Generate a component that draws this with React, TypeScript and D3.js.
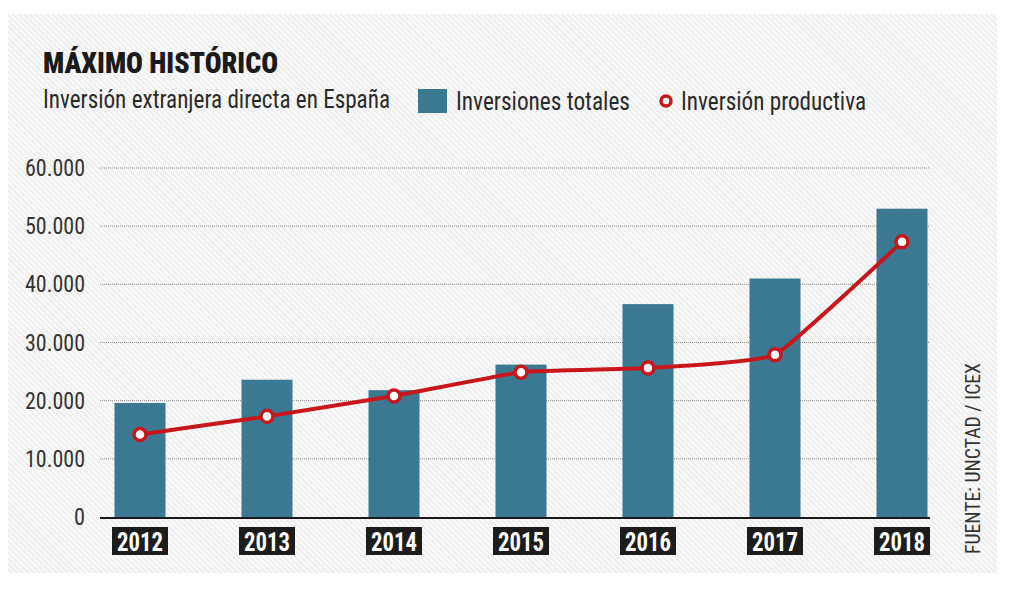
import {useEffect, useRef} from "react";
import * as d3 from "d3";

const years = ["2012", "2013", "2014", "2015", "2016", "2017", "2018"];
const totales = [19600, 23600, 21800, 26200, 36600, 41000, 53000];
const productiva = [14200, 17300, 20800, 24900, 25600, 27900, 47300];
const yTicks = [0, 10000, 20000, 30000, 40000, 50000, 60000];

const BLUE = "#3b7993";
const RED = "#c8161d";
const FONT = "'Roboto Condensed', Roboto, 'DejaVu Sans', sans-serif";

function App() {
    const ref = useRef<SVGSVGElement>(null);

    useEffect(() => {
        const svg = d3.select(ref.current);
        svg.selectAll("*").remove();

        // background hatch
        const defs = svg.append("defs");
        const pat = defs.append("pattern")
            .attr("id", "hatch")
            .attr("patternUnits", "userSpaceOnUse")
            .attr("width", 4)
            .attr("height", 4)
            .attr("patternTransform", "rotate(-45)");
        pat.append("rect").attr("width", 4).attr("height", 4).attr("fill", "#eeeeee");
        pat.append("rect").attr("width", 2).attr("height", 4).attr("fill", "#fbfbfb");

        svg.append("rect")
            .attr("x", 8).attr("y", 14)
            .attr("width", 989).attr("height", 559)
            .attr("fill", "url(#hatch)");

        const x = d3.scalePoint().domain(years).range([140, 902]);
        const y = d3.scaleLinear().domain([0, 60000]).range([517, 168]);
        const barW = 51;

        // gridlines
        svg.append("g")
            .selectAll("line")
            .data(yTicks.filter(d => d > 0))
            .enter().append("line")
            .attr("x1", 100).attr("x2", 930)
            .attr("y1", d => y(d)).attr("y2", d => y(d))
            .attr("stroke", "#8a8a8a")
            .attr("stroke-width", 1)
            .attr("stroke-dasharray", "1,1");

        // y tick labels
        const fmt = (v: number) => d3.format(",")(v).replace(/,/g, ".");
        svg.append("g")
            .selectAll("text")
            .data(yTicks)
            .enter().append("text")
            .attr("x", 85)
            .attr("y", d => y(d) + 8)
            .attr("text-anchor", "end")
            .attr("font-family", FONT)
            .attr("font-size", 23)
            .attr("fill", "#333")
            .attr("textLength", d => {
                const s = fmt(d);
                return s.replace(/\./g, "").length * 11 + (s.length - s.replace(/\./g, "").length) * 5;
            })
            .attr("lengthAdjust", "spacingAndGlyphs")
            .text(d => fmt(d));

        // bars
        svg.append("g")
            .selectAll("rect")
            .data(totales)
            .enter().append("rect")
            .attr("x", (d, i) => (x(years[i]) as number) - barW / 2)
            .attr("y", d => y(d))
            .attr("width", barW)
            .attr("height", d => y(0) - y(d))
            .attr("fill", BLUE);

        // baseline
        svg.append("line")
            .attr("x1", 100).attr("x2", 930)
            .attr("y1", y(0) + 1).attr("y2", y(0) + 1)
            .attr("stroke", "#1a1a1a")
            .attr("stroke-width", 2);

        // year labels
        const yl = svg.append("g").selectAll("g").data(years).enter().append("g")
            .attr("transform", d => `translate(${x(d)},541)`);
        yl.append("rect")
            .attr("x", -28).attr("y", -14)
            .attr("width", 56).attr("height", 28)
            .attr("fill", "#1c1c1c");
        yl.append("text")
            .attr("y", 10)
            .attr("text-anchor", "middle")
            .attr("font-family", FONT)
            .attr("font-weight", 700)
            .attr("font-size", 25)
            .attr("fill", "#fff")
            .attr("textLength", 46)
            .attr("lengthAdjust", "spacingAndGlyphs")
            .text(d => d);

        // productive line
        const line = d3.line<number>()
            .x((d, i) => x(years[i]) as number)
            .y(d => y(d))
            .curve(d3.curveCardinal.tension(0.65));
        svg.append("path")
            .datum(productiva)
            .attr("d", line)
            .attr("fill", "none")
            .attr("stroke", RED)
            .attr("stroke-width", 4);
        svg.append("g")
            .selectAll("circle")
            .data(productiva)
            .enter().append("circle")
            .attr("cx", (d, i) => x(years[i]) as number)
            .attr("cy", d => y(d))
            .attr("r", 6)
            .attr("fill", "#fff")
            .attr("stroke", RED)
            .attr("stroke-width", 3.5);

        // title + subtitle
        svg.append("text")
            .attr("x", 43).attr("y", 73)
            .attr("font-family", FONT)
            .attr("font-weight", 900)
            .attr("font-size", 29)
            .attr("fill", "#1a1a1a")
            .attr("textLength", 235)
            .attr("lengthAdjust", "spacingAndGlyphs")
            .text("MÁXIMO HISTÓRICO");
        svg.append("text")
            .attr("x", 43).attr("y", 108)
            .attr("font-family", FONT)
            .attr("font-size", 25)
            .attr("fill", "#2a2a2a")
            .attr("textLength", 347)
            .attr("lengthAdjust", "spacingAndGlyphs")
            .text("Inversión extranjera directa en España");

        // legend
        svg.append("rect")
            .attr("x", 418).attr("y", 89)
            .attr("width", 29).attr("height", 24)
            .attr("fill", BLUE);
        svg.append("text")
            .attr("x", 456).attr("y", 110)
            .attr("font-family", FONT)
            .attr("font-size", 25)
            .attr("fill", "#2a2a2a")
            .attr("textLength", 174)
            .attr("lengthAdjust", "spacingAndGlyphs")
            .text("Inversiones totales");
        svg.append("circle")
            .attr("cx", 666).attr("cy", 101)
            .attr("r", 5)
            .attr("fill", "#fff")
            .attr("stroke", RED)
            .attr("stroke-width", 3.5);
        svg.append("text")
            .attr("x", 681).attr("y", 110)
            .attr("font-family", FONT)
            .attr("font-size", 25)
            .attr("fill", "#2a2a2a")
            .attr("textLength", 185)
            .attr("lengthAdjust", "spacingAndGlyphs")
            .text("Inversión productiva");

        // source
        svg.append("text")
            .attr("transform", "translate(980,554) rotate(-90)")
            .attr("font-family", FONT)
            .attr("font-size", 20)
            .attr("fill", "#333")
            .attr("textLength", 191)
            .attr("lengthAdjust", "spacingAndGlyphs")
            .text("FUENTE: UNCTAD / ICEX");
    }, []);

    return <svg ref={ref} width={1024} height={589}
                style={{position: "absolute", left: 0, top: 0, background: "#fff"}}/>;
}

export default App;
